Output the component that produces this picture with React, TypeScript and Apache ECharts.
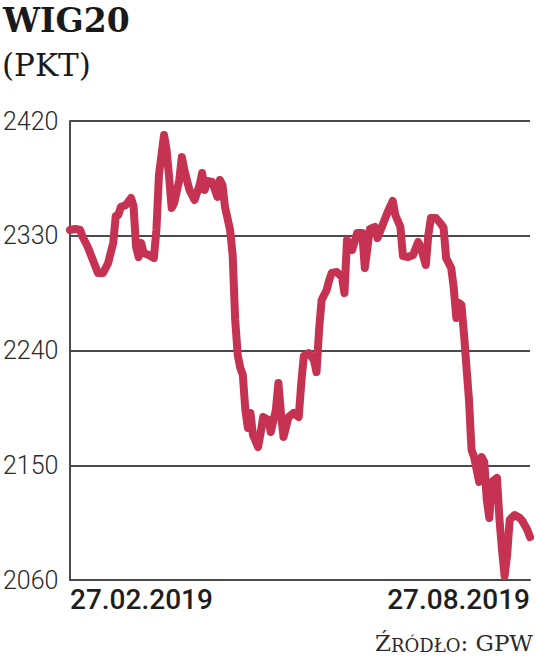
import React, { useEffect, useRef } from "react";
import * as echarts from "echarts";

// Day offsets from 27.02.2019 (0) to 27.08.2019 (181)
const dayOffsets = [
  0, 2, 4, 5, 7, 9, 11, 13, 15, 16, 17, 18, 19, 20, 22, 24, 25, 26, 27, 28,
  29, 31, 33, 34, 35, 37, 38, 39, 40, 41, 43, 44, 45, 47, 49, 51, 52, 53, 54, 56,
  58, 59, 60, 61, 63, 64, 65, 66, 67, 68, 69, 70, 71, 72, 74, 75, 76, 78, 79, 81,
  82, 83, 84, 86, 88, 90, 91, 92, 94, 96, 97, 98, 99, 101, 102, 103, 105, 107, 108, 109,
  111, 113, 115, 116, 118, 120, 121, 123, 125, 127, 128, 130, 131, 133, 135, 137, 138, 140, 141, 142,
  144, 146, 147, 148, 150, 151, 152, 153, 154, 155, 156, 157, 158, 159, 161, 162, 163, 164, 165, 166,
  168, 169, 170, 171, 172, 173, 174, 175, 177, 178, 180, 181,
];

const wig20Values = [
  2334.5, 2335.3, 2334.5, 2329.0, 2321.2, 2311.0, 2300.8, 2300.8, 2308.6, 2316.5,
  2324.3, 2345.5, 2346.3, 2352.5, 2354.1, 2359.6, 2353.3, 2321.2, 2313.3, 2324.3,
  2316.5, 2314.9, 2312.5, 2334.5, 2377.6, 2409.0, 2397.3, 2376.1, 2351.8, 2355.7,
  2373.7, 2391.8, 2381.6, 2365.9, 2358.0, 2369.8, 2379.2, 2365.9, 2372.9, 2372.2,
  2360.4, 2373.7, 2369.8, 2352.5, 2334.5, 2314.9, 2263.9, 2236.5, 2226.3, 2220.8,
  2193.3, 2179.2, 2191.0, 2173.7, 2164.3, 2175.3, 2187.8, 2185.5, 2176.1, 2193.3,
  2214.5, 2191.0, 2172.2, 2187.8, 2191.0, 2187.8, 2214.5, 2235.7, 2238.0, 2232.5,
  2223.1, 2256.1, 2279.6, 2287.5, 2295.3, 2300.8, 2301.6, 2297.6, 2285.1, 2326.7,
  2318.8, 2332.2, 2332.2, 2304.7, 2335.3, 2336.9, 2328.2, 2338.4, 2348.6, 2357.3,
  2346.3, 2336.9, 2314.1, 2313.3, 2314.9, 2325.1, 2321.2, 2307.1, 2330.6, 2343.9,
  2343.9, 2339.2, 2336.1, 2312.5, 2304.7, 2289.0, 2265.5, 2277.3, 2275.7, 2253.7,
  2227.1, 2201.2, 2162.0, 2156.5, 2136.9, 2156.5, 2152.5, 2122.7, 2108.6, 2136.9,
  2140.0, 2107.1, 2083.5, 2063.1, 2079.6, 2107.1, 2109.4, 2111.0, 2108.6, 2106.3,
  2099.2, 2093.7,
];

const yTickValues = [2060, 2150, 2240, 2330, 2420];
const dateLabels = ["27.02.2019", "27.08.2019"];
const titleText = "WIG20";
const unitText = "(PKT)";

export default function App() {
  const ref = useRef<HTMLDivElement>(null);

  useEffect(() => {
    if (!ref.current) return;
    const chart = echarts.init(ref.current, null, { renderer: "svg" });
    const base = yTickValues[0];
    const step = yTickValues[1] - yTickValues[0];
    const topVal = yTickValues[yTickValues.length - 1];
    const lastDay = dayOffsets[dayOffsets.length - 1];
    const lineColor = "#c63352";
    const gridColor = "#4a4a4a";
    const serif = "DejaVu Serif, Liberation Serif, serif";

    chart.setOption({
      animation: false,
      grid: { left: 68, right: 6, top: 121, bottom: 84, containLabel: false },
      xAxis: {
        type: "value",
        min: 0,
        max: lastDay,
        interval: lastDay,
        axisLine: { show: true, lineStyle: { color: gridColor, width: 2 } },
        axisTick: { show: false },
        splitLine: { show: false },
        axisLabel: {
          formatter: (v: number) => (v === 0 ? dateLabels[0] : dateLabels[1]),
          alignMinLabel: "left",
          alignMaxLabel: "right",
          fontFamily: "Roboto",
          fontWeight: 500,
          fontSize: 28,
          color: "#1e1e1e",
          margin: 5,
        },
      },
      yAxis: {
        type: "value",
        min: 0,
        max: topVal - base,
        interval: step,
        axisLine: { show: true, lineStyle: { color: gridColor, width: 2 } },
        axisTick: { show: false },
        splitLine: { show: true, lineStyle: { color: gridColor, width: 2 } },
        axisLabel: {
          formatter: (v: number) => String(v + base),
          align: "left",
          margin: 67,
          fontFamily: "Roboto",
          fontWeight: 300,
          fontSize: 25,
          color: "#2a2a2a",
        },
      },
      series: [
        {
          type: "line",
          data: dayOffsets.map((d, i) => [d, wig20Values[i] - base]),
          symbol: "none",
          clip: false,
          lineStyle: { color: lineColor, width: 8, cap: "round", join: "round" },
        },
      ],
      graphic: [
        {
          type: "text",
          left: 3,
          top: 4,
          style: {
            text: titleText,
            fontFamily: serif,
            fontWeight: "bold",
            fontSize: 33,
            fill: "#1a1a1a",
          },
        },
        {
          type: "text",
          left: 2,
          top: 49,
          style: {
            text: unitText,
            fontFamily: serif,
            fontSize: 31,
            fill: "#1a1a1a",
          },
        },
        {
          type: "text",
          right: 3,
          top: 631,
          style: {
            text: "{a|Ź}{b|RÓDŁO}{a|: GPW}",
            rich: {
              a: { fontFamily: serif, fontSize: 23, fill: "#2a2a2a", verticalAlign: "bottom" },
              b: { fontFamily: serif, fontSize: 18, fill: "#2a2a2a", verticalAlign: "bottom" },
            },
          },
        },
      ],
    });

    return () => chart.dispose();
  }, []);

  return (
    <div
      ref={ref}
      style={{ position: "absolute", left: 0, top: 0, width: 536, height: 664, background: "#fff" }}
    />
  );
}
